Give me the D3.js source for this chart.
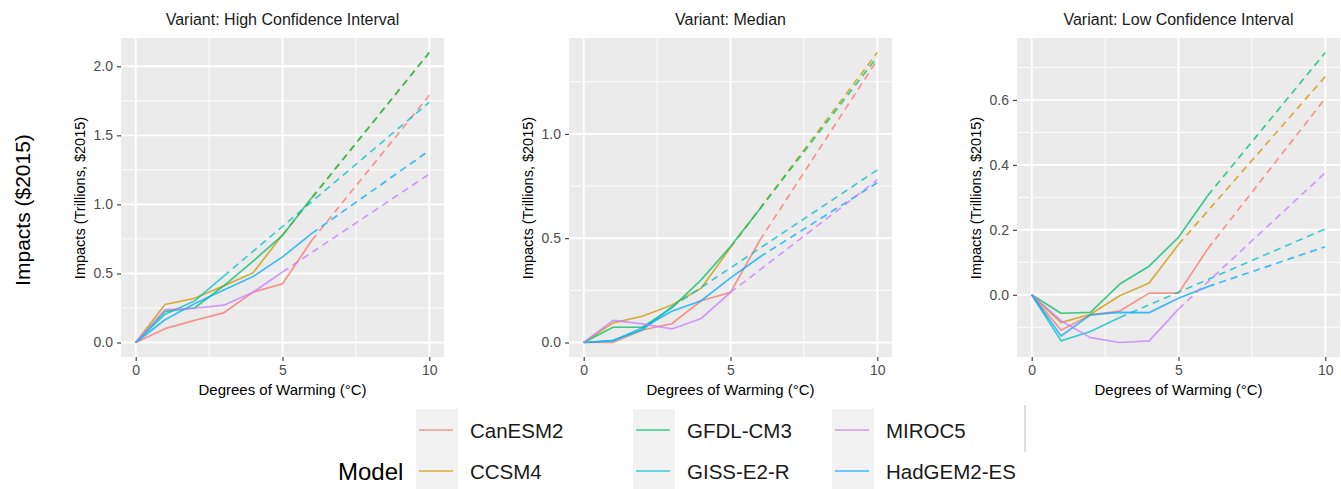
<!DOCTYPE html>
<html>
<head>
<meta charset="utf-8">
<script src="https://cdn.jsdelivr.net/npm/d3@7"></script>
<style>
  body { margin: 0; background: #fff; }
  svg { display: block; font-family: "Liberation Sans", Arial, sans-serif; }
</style>
</head>
<body>
<div class="chart"></div>
<script>
// models and palette
var models = ["CanESM2", "CCSM4", "GFDL-CM3", "GISS-E2-R", "HadGEM2-ES", "MIROC5"];
var modelColors = ["#F8766D", "#CD9600", "#00BE67", "#00BFC4", "#00A9FF", "#C77CFF"];
var legendOrder = [["CanESM2", "CCSM4"], ["GFDL-CM3", "GISS-E2-R"], ["MIROC5", "HadGEM2-ES"]];

var variants = ["High Confidence Interval", "Median", "Low Confidence Interval"];
var degrees = [0, 1, 2, 3, 4, 5, 6];
var projDegree = 10;

// observed impacts (trillions) at degrees 0..n, per model, per variant
var highObs = [
    [0, 0.10, 0.16, 0.215, 0.365, 0.425, 0.74],
    [0, 0.275, 0.32, 0.41, 0.505, 0.78],
    [0, 0.225, 0.25, 0.41, 0.59, 0.775, 1.05],
    [0, 0.205, 0.30, 0.48],
    [0, 0.165, 0.28, 0.38, 0.478, 0.62, 0.79],
    [0, 0.238, 0.248, 0.27, 0.364, 0.51]
];
var medianObs = [
    [0, 0.0, 0.06, 0.09, 0.20, 0.24, 0.49],
    [0, 0.094, 0.126, 0.18, 0.26, 0.455],
    [0, 0.073, 0.073, 0.166, 0.30, 0.46, 0.64],
    [0, 0.01, 0.06, 0.17],
    [0, 0.008, 0.07, 0.15, 0.20, 0.31, 0.41],
    [0, 0.106, 0.089, 0.065, 0.115, 0.24]
];
var lowObs = [
    [0, -0.109, -0.062, -0.05, 0.005, 0.005, 0.142],
    [0, -0.086, -0.06, -0.003, 0.036, 0.155],
    [0, -0.057, -0.054, 0.033, 0.088, 0.177, 0.306],
    [0, -0.142, -0.113, -0.07],
    [0, -0.127, -0.062, -0.054, -0.055, -0.011, 0.025],
    [0, -0.08, -0.132, -0.147, -0.142, -0.044]
];
// projected value at 10 degrees
var highProj = [1.79, 2.10, 2.10, 1.74, 1.39, 1.22];
var medianProj = [1.355, 1.39, 1.37, 0.827, 0.766, 0.78];
var lowProj = [0.605, 0.672, 0.746, 0.203, 0.148, 0.376];

var obsByVariant = [highObs, medianObs, lowObs];
var projByVariant = [highProj, medianProj, lowProj];

var yTicks = [[0, 0.5, 1, 1.5, 2], [0, 0.5, 1], [0, 0.2, 0.4, 0.6]];
var yMinor = [[0.25, 0.75, 1.25, 1.75], [0.25, 0.75, 1.25], [-0.1, 0.1, 0.3, 0.5, 0.7]];
var xTicks = [0, 5, 10];
var xMinor = [2.5, 7.5];

var svgWidth = 1341;
var svgHeight = 489;
var panelLefts = [121, 569, 1017];
var panelTop = 38;
var panelW = 323;
var panelH = 319;

var svg = d3.select(".chart")
    .append("svg")
    .attr("width", svgWidth)
    .attr("height", svgHeight);

// overall y label
svg.append("text")
    .attr("transform", "translate(22,210) rotate(-90)")
    .attr("text-anchor", "middle")
    .attr("dominant-baseline", "central")
    .style("font-size", "21px")
    .attr("fill", "#000")
    .text("Impacts ($2015)");

variants.forEach(function (variant, vi) {
    var left = panelLefts[vi];
    var obs = obsByVariant[vi];
    var proj = projByVariant[vi];

    var allVals = d3.merge(obs).concat(proj);
    var ext = d3.extent(allVals);
    var pad = (ext[1] - ext[0]) * 0.05;

    var x = d3.scaleLinear().domain([-0.5, 10.5]).range([left, left + panelW]);
    var y = d3.scaleLinear().domain([ext[0] - pad, ext[1] + pad]).range([panelTop + panelH, panelTop]);

    var g = svg.append("g");

    g.append("rect")
        .attr("x", left).attr("y", panelTop)
        .attr("width", panelW).attr("height", panelH)
        .attr("fill", "#EBEBEB");

    // grid
    g.selectAll(".ymin").data(yMinor[vi]).enter().append("line")
        .attr("x1", left).attr("x2", left + panelW)
        .attr("y1", d => y(d)).attr("y2", d => y(d))
        .attr("stroke", "#fff").attr("stroke-width", 0.9);
    g.selectAll(".xmin").data(xMinor).enter().append("line")
        .attr("y1", panelTop).attr("y2", panelTop + panelH)
        .attr("x1", d => x(d)).attr("x2", d => x(d))
        .attr("stroke", "#fff").attr("stroke-width", 0.9);
    g.selectAll(".ymaj").data(yTicks[vi]).enter().append("line")
        .attr("x1", left).attr("x2", left + panelW)
        .attr("y1", d => y(d)).attr("y2", d => y(d))
        .attr("stroke", "#fff").attr("stroke-width", 1.9);
    g.selectAll(".xmaj").data(xTicks).enter().append("line")
        .attr("y1", panelTop).attr("y2", panelTop + panelH)
        .attr("x1", d => x(d)).attr("x2", d => x(d))
        .attr("stroke", "#fff").attr("stroke-width", 1.9);

    var line = d3.line().x(d => x(d[0])).y(d => y(d[1]));

    models.forEach(function (m, mi) {
        var pts = obs[mi].map((v, i) => [degrees[i], v]);
        var last = pts[pts.length - 1];
        // dashed projection
        g.append("path")
            .datum([last, [projDegree, proj[mi]]])
            .attr("d", line)
            .attr("fill", "none")
            .attr("stroke", modelColors[mi])
            .attr("stroke-opacity", 0.75)
            .attr("stroke-width", 1.7)
            .attr("stroke-dasharray", "7,5");
        g.append("path")
            .datum(pts)
            .attr("d", line)
            .attr("fill", "none")
            .attr("stroke", modelColors[mi])
            .attr("stroke-opacity", 0.75)
            .attr("stroke-width", 1.7)
            .attr("stroke-linejoin", "round");
    });

    // axes
    var yAxis = g.append("g")
        .attr("transform", `translate(${left},0)`)
        .call(d3.axisLeft(y).tickValues(yTicks[vi]).tickFormat(d3.format(".1f")).tickSize(4).tickPadding(4));
    var xAxis = g.append("g")
        .attr("transform", `translate(0,${panelTop + panelH})`)
        .call(d3.axisBottom(x).tickValues(xTicks).tickSize(4).tickPadding(4));
    [yAxis, xAxis].forEach(function (a) {
        a.select(".domain").remove();
        a.selectAll(".tick line").attr("stroke", "#333").attr("stroke-width", 1.1);
        a.selectAll(".tick text")
            .attr("fill", "#4D4D4D")
            .style("font-size", "14px")
            .style("font-family", "Liberation Sans, Arial, sans-serif");
    });

    // titles
    g.append("text")
        .attr("x", left + panelW / 2).attr("y", 25)
        .attr("text-anchor", "middle")
        .style("font-size", "16px")
        .attr("fill", "#1A1A1A")
        .text("Variant: " + variant);

    g.append("text")
        .attr("x", left + panelW / 2).attr("y", 395)
        .attr("text-anchor", "middle")
        .style("font-size", "15px")
        .attr("fill", "#000")
        .text("Degrees of Warming (°C)");

    g.append("text")
        .attr("transform", `translate(${left - 41},${panelTop + 160}) rotate(-90)`)
        .attr("text-anchor", "middle")
        .attr("dominant-baseline", "central")
        .style("font-size", "14.5px")
        .attr("fill", "#000")
        .text("Impacts (Trillions, $2015)");
});

// legend
var legendX = [416, 633, 832];
var rowY = [430, 471];
var legend = svg.append("g");

legend.append("text")
    .attr("x", 338).attr("y", 480)
    .style("font-size", "24px")
    .attr("fill", "#000")
    .text("Model");

legendOrder.forEach(function (col, ci) {
    col.forEach(function (m, ri) {
        var mi = models.indexOf(m);
        var kx = legendX[ci];
        legend.append("rect")
            .attr("x", kx).attr("y", 409 + ri * 40)
            .attr("width", 42).attr("height", 40)
            .attr("fill", "#F2F2F2");
        legend.append("line")
            .attr("x1", kx + 3).attr("x2", kx + 37)
            .attr("y1", rowY[ri]).attr("y2", rowY[ri])
            .attr("stroke", modelColors[mi])
            .attr("stroke-opacity", 0.75)
            .attr("stroke-width", 1.7);
        legend.append("text")
            .attr("x", kx + 54).attr("y", rowY[ri] + 8)
            .style("font-size", "20.5px")
            .attr("fill", "#1A1A1A")
            .text(m);
    });
});

legend.append("line")
    .attr("x1", 1025).attr("x2", 1025)
    .attr("y1", 405).attr("y2", 452)
    .attr("stroke", "#BBB").attr("stroke-width", 1);
</script>
</body>
</html>
